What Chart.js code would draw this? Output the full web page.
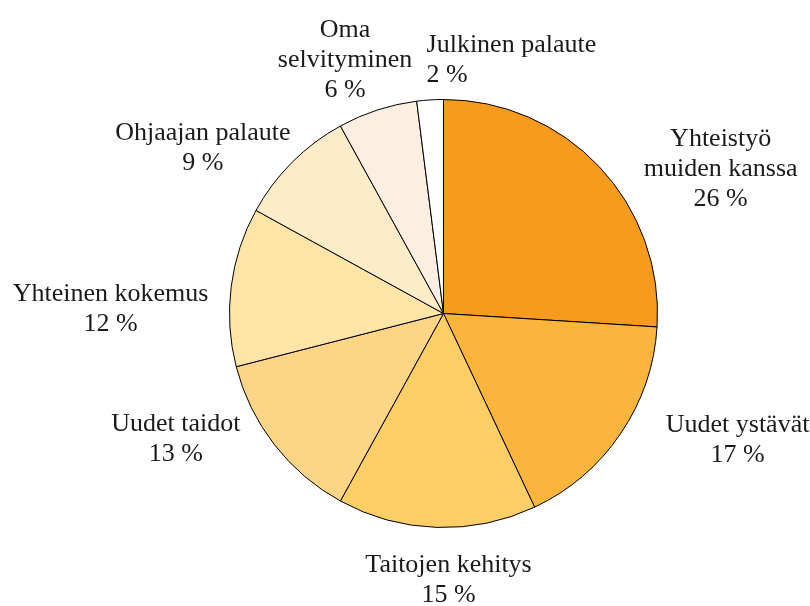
<!DOCTYPE html>
<html>
<head>
<meta charset="utf-8">
<script src="https://cdn.jsdelivr.net/npm/chart.js@4.4.0/dist/chart.umd.min.js"></script>
<style>
  html, body { margin: 0; padding: 0; background: #ffffff; }
  #chart { display: block; }
</style>
</head>
<body>
<canvas id="chart" width="810" height="606"></canvas>
<script>
// -------------------------------
// Data
// -------------------------------
const categories = [
  ["Yhteistyö", "muiden kanssa"],
  ["Uudet ystävät"],
  ["Taitojen kehitys"],
  ["Uudet taidot"],
  ["Yhteinen kokemus"],
  ["Ohjaajan palaute"],
  ["Oma", "selvityminen"],
  ["Julkinen palaute"]
];
const shares = [26, 17, 15, 13, 12, 9, 6, 2];

const sliceColors = [
  "#F79B1F", "#FBB53C", "#FDCE66", "#FED587",
  "#FEE4A6", "#FEEBC8", "#FDEEE2", "#FFFFFF"
];

// label nudges relative to a point just outside the slice (dx, dy, align)
const labelNudges = [
  [92, 30, "center"],
  [84, -16, "center"],
  [13, 13, "center"],
  [-67, -30, "center"],
  [-81, 28, "center"],
  [-61, 14, "center"],
  [-20, -12, "center"],
  [-1, 0, "left"]
];

// -------------------------------
// Outside labels plugin
// -------------------------------
const outsideLabels = {
  id: "outsideLabels",
  afterDatasetsDraw(chart) {
    const ctx = chart.ctx;
    const meta = chart.getDatasetMeta(0);
    const lineH = 30;
    ctx.save();
    ctx.font = "26px \"Liberation Serif\"";
    ctx.fillStyle = "#1a1a1a";
    ctx.textBaseline = "middle";

    meta.data.forEach((arc, i) => {
      const mid = (arc.startAngle + arc.endAngle) / 2;
      const r = arc.outerRadius + 40;
      const baseX = arc.x + Math.cos(mid) * r;
      const baseY = arc.y + Math.sin(mid) * r;
      const [dx, dy, align] = labelNudges[i];
      const lines = categories[i].concat([shares[i] + " %"]);
      const cx = baseX + dx;
      const cy = baseY + dy;
      const top = cy - (lines.length - 1) * lineH / 2;
      ctx.textAlign = align;
      lines.forEach((txt, k) => {
        ctx.fillText(txt, cx, top + k * lineH);
      });
    });
    ctx.restore();
  }
};

// -------------------------------
// Chart
// -------------------------------
Chart.defaults.font.family = "'Liberation Serif', serif";
const ctx = document.getElementById("chart").getContext("2d");
new Chart(ctx, {
  type: "pie",
  data: {
    labels: categories.map((c) => c.join(" ")),
    datasets: [
      {
        data: shares,
        backgroundColor: sliceColors,
        borderColor: "#000000",
        borderWidth: 1
      }
    ]
  },
  options: {
    responsive: false,
    animation: false,
    rotation: 0,
    layout: {
      padding: { top: 99, bottom: 78, left: 229, right: 152 }
    },
    plugins: {
      legend: { display: false },
      tooltip: { enabled: false }
    }
  },
  plugins: [outsideLabels]
});
</script>
</body>
</html>
